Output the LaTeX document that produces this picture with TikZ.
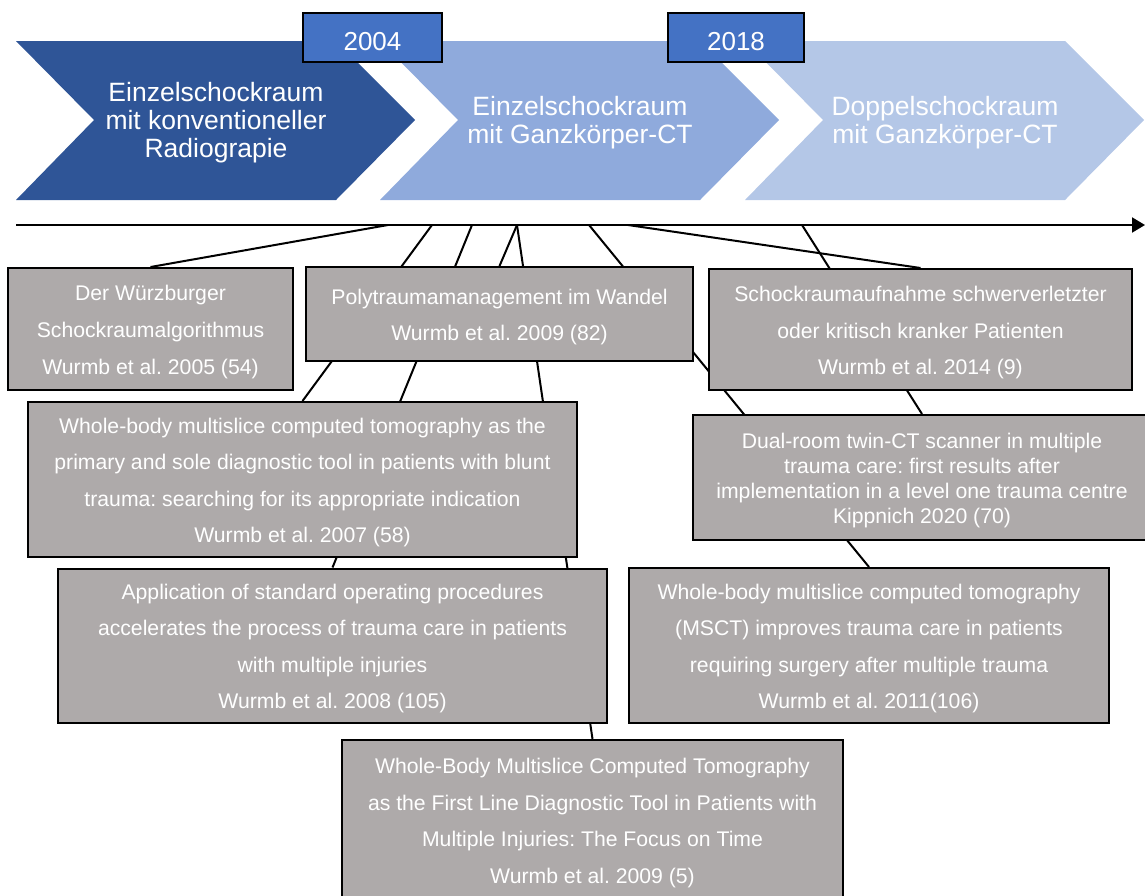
\documentclass[tikz,border=0pt]{standalone}
\usepackage{fontspec}
\setmainfont{Liberation Sans}
\usetikzlibrary{arrows.meta,backgrounds}
\definecolor{dk}{HTML}{2F5597}
\definecolor{md}{HTML}{8FAADC}
\definecolor{lt}{HTML}{B4C7E7}
\definecolor{yr}{HTML}{4472C4}
\definecolor{bx}{HTML}{AEAAAA}
\newcommand\ts{\rule{0pt}{22pt}}
\newcommand\te{\rule[-5pt]{0pt}{5pt}}
\begin{document}
\frenchspacing
\begin{tikzpicture}[x=1pt,y=-1pt,
  refbox/.style={draw=black,line width=2pt,fill=bx,text=white,
    font=\fontsize{21.2}{36.6}\selectfont,align=center,inner sep=0pt},
  dualbox/.style={refbox,font=\fontsize{21.2}{25}\selectfont},
  chevtext/.style={text=white,font=\fontsize{26.5}{28}\selectfont,align=center,inner sep=0pt},
  yearbox/.style={draw=black,line width=2pt,fill=yr,text=white,
    font=\fontsize{26}{28}\selectfont,inner sep=0pt,text height=25pt,text depth=0pt},
  conn/.style={draw=black,line width=2pt},
  axis/.style={draw=black,line width=2pt,-{Triangle[length=13pt,width=15pt]}}]
\useasboundingbox (0,0) rectangle (1145,895);

% chevrons
\fill[dk] (16,41)--(336,41)--(415,120)--(336,200)--(16,200)--(94,120)--cycle;
\fill[md] (380,41)--(700,41)--(779,120)--(700,200)--(380,200)--(458,120)--cycle;
\fill[lt] (745,41)--(1065,41)--(1144,120)--(1065,200)--(745,200)--(823,120)--cycle;
\node[chevtext] (c1) at (216,123) {Einzelschockraum\\mit konventioneller\\Radiograpie};
\node[chevtext] (c2) at (580,123) {Einzelschockraum\\mit Ganzkörper-CT};
\node[chevtext] (c3) at (945,123) {Doppelschockraum\\mit Ganzkörper-CT};

% year boxes
\node[yearbox,minimum width=139pt,minimum height=49pt] (y1) at (372.5,37.5) {2004};
\node[yearbox,minimum width=136pt,minimum height=49pt] (y2) at (736,37.5) {2018};

% timeline
\coordinate (a0) at (16,225);
\coordinate (a1) at (1145,225);
\draw[axis] (a0) -- (a1);
\coordinate (t1) at (388,225);
\coordinate (t2) at (432,225);
\coordinate (t3) at (472,225);
\coordinate (t4) at (517,225);
\coordinate (t6) at (589,225);
\coordinate (t7) at (628,225);
\coordinate (t8) at (802,225);

% reference boxes
\node[refbox,minimum width=285pt,minimum height=122pt] (wue) at (150.5,329)
  {\ts Der Würzburger\\Schockraumalgorithmus\\Wurmb et al. 2005 (54)\te};
\node[refbox,minimum width=387pt,minimum height=94pt] (poly) at (499.5,314)
  {\ts Polytraumamanagement im Wandel\\Wurmb et al. 2009 (82)\te};
\node[refbox,minimum width=423pt,minimum height=121pt] (sch) at (920.5,329.5)
  {\ts Schockraumaufnahme schwerverletzter\\oder kritisch kranker Patienten\\Wurmb et al. 2014 (9)\te};
\node[refbox,minimum width=549pt,minimum height=155pt] (wb07) at (302.5,479.5)
  {\ts Whole-body multislice computed tomography as the\\primary and sole diagnostic tool in patients with blunt\\trauma: searching for its appropriate indication\\Wurmb et al. 2007 (58)\te};
\node[dualbox,minimum width=458pt,minimum height=125pt] (dual) at (922,477.5)
  {\ts Dual-room twin-CT scanner in multiple\\trauma care: first results after\\implementation in a level one trauma centre\\Kippnich 2020 (70)\te};
\node[refbox,minimum width=549pt,minimum height=154pt] (sop) at (332.5,645.5)
  {\ts Application of standard operating procedures\\accelerates the process of trauma care in patients\\with multiple injuries\\Wurmb et al. 2008 (105)\te};
\node[refbox,minimum width=480pt,minimum height=155pt] (msct) at (869,645.5)
  {\ts Whole-body multislice computed tomography\\(MSCT) improves trauma care in patients\\requiring surgery after multiple trauma\\Wurmb et al. 2011(106)\te};
\node[refbox,minimum width=501pt,minimum height=160pt] (wb09) at (592.5,820)
  {\ts Whole-Body Multislice Computed Tomography\\as the First Line Diagnostic Tool in Patients with\\Multiple Injuries: The Focus on Time\\Wurmb et al. 2009 (5)\te};

% connectors (behind boxes)
\begin{pgfonlayer}{background}
\draw[conn] (t1) -- (wue.north);
\draw[conn] (t2) -- (wb07.north);
\draw[conn] (t3) -- (sop.north);
\draw[conn] (t4) -- (poly.north);
\draw[conn] (t4) -- (wb09.north);
\draw[conn] (t6) -- (msct.north);
\draw[conn] (t7) -- (sch.north);
\draw[conn] (t8) -- (dual.north);
\end{pgfonlayer}
\end{tikzpicture}
\end{document}
